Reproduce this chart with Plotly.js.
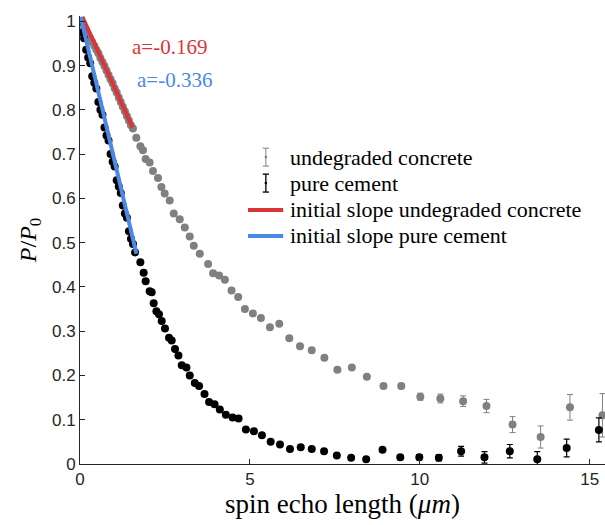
<!DOCTYPE html>
<html>
<head>
<meta charset="utf-8">
<script src="https://cdn.plot.ly/plotly-3.0.1.min.js"></script>
<style>html,body{margin:0;padding:0;background:#fff}#chart{width:605px;height:525px}</style>
</head>
<body>
<div id="chart"></div>
<script>
// ---- data ----
const concreteX = [0,0.06,0.12,0.18,0.24,0.30,0.36,0.42,0.48,0.54,0.60,0.66,0.72,0.78,0.84,0.90,0.96,1.02,1.08,1.14,1.20,1.26,1.32,1.38,1.44,1.50,
  1.558,1.658,1.776,1.853,1.932,2.050,2.147,2.295,2.395,2.493,2.640,2.758,2.935,3.083,3.230,3.348,3.525,3.770,3.917,4.094,4.263,4.460,4.655,4.853,
  5.088,5.324,5.590,5.864,6.159,6.475,6.820,7.192,7.575,8.000,8.442,8.932,9.454,10.015,10.605,11.274,11.962,12.729,13.555,14.419,15.375];
const concreteY = [1.0,0.995,0.988,0.980,0.970,0.962,0.953,0.945,0.936,0.928,0.917,0.908,0.899,0.889,0.879,0.869,0.860,0.849,0.839,0.828,0.818,0.807,0.797,0.786,0.776,0.765,
  0.758,0.737,0.718,0.709,0.689,0.681,0.662,0.646,0.626,0.611,0.595,0.566,0.553,0.534,0.514,0.493,0.475,0.452,0.431,0.426,0.416,0.392,0.377,0.350,
  0.340,0.330,0.309,0.317,0.284,0.266,0.257,0.240,0.213,0.218,0.197,0.176,0.176,0.152,0.148,0.142,0.131,0.089,0.061,0.128,0.110];
const concreteErr = [0,0,0,0,0,0,0,0,0,0,0,0,0,0,0,0,0,0,0,0,0,0,0,0,0,0,
  0,0,0,0,0,0,0,0,0,0,0,0,0,0,0,0,0,0,0,0,0,0,0,0,
  0,0,0,0,0,0,0,0,0,0,0.004,0.005,0.006,0.008,0.010,0.012,0.015,0.018,0.025,0.029,0.049];

const cementX = [0,0.06,0.12,0.18,0.24,0.30,0.36,0.42,0.48,0.54,0.60,0.66,0.72,0.78,0.84,0.90,0.96,1.02,1.08,1.14,1.20,1.26,1.32,1.38,1.44,1.50,1.56,1.62,
  1.776,1.873,1.932,2.050,2.109,2.168,2.248,2.324,2.404,2.501,2.619,2.699,2.796,2.897,2.994,3.133,3.230,3.378,3.504,3.664,3.799,3.959,4.115,4.292,4.490,4.667,
  4.882,5.118,5.354,5.611,5.885,6.180,6.496,6.820,7.183,7.558,7.979,8.422,8.903,9.425,9.985,10.56,11.215,11.903,12.649,13.457,14.322,15.27];
const cementY = [1.0,0.975,0.962,0.936,0.918,0.905,0.876,0.861,0.848,0.818,0.800,0.789,0.760,0.742,0.731,0.700,0.683,0.672,0.641,0.627,0.612,0.584,0.566,0.556,0.526,0.509,0.497,0.478,
  0.456,0.432,0.413,0.390,0.388,0.363,0.345,0.338,0.323,0.306,0.285,0.279,0.260,0.245,0.223,0.218,0.200,0.183,0.176,0.158,0.140,0.135,0.123,0.111,0.105,0.103,
  0.078,0.074,0.065,0.050,0.044,0.034,0.038,0.034,0.029,0.019,0.014,0.011,0.032,0.015,0.015,0.014,0.029,0.015,0.029,0.011,0.036,0.077];
const cementErr = [0,0,0,0,0,0,0,0,0,0,0,0,0,0,0,0,0,0,0,0,0,0,0,0,0,0,0,0,
  0,0,0,0,0,0,0,0,0,0,0,0,0,0,0,0,0,0,0,0,0,0,0,0,0,0,
  0,0,0,0,0,0,0,0,0,0,0,0,0.004,0.005,0.006,0.007,0.011,0.013,0.015,0.017,0.020,0.027];

const slopeConcreteX = [0.07, 1.55];
const slopeConcreteY = [1.01, 0.76];
const slopeCementX = [0.02, 1.66];
const slopeCementY = [1.01, 0.475];

const slopeLabels = ["a=-0.169", "a=-0.336"];
const seriesNames = ["undegraded concrete", "pure cement", "initial slope undegraded concrete", "initial slope pure cement"];
const xTicks = [0, 5, 10, 15];

// ---- styles ----
const GRAY = "#808080", RED = "#d9363a", BLUE = "#4a8ae6";
const SERIF = "Liberation Serif";
const SANS = "Liberation Sans";

const traces = [
  {x: concreteX, y: concreteY, mode: "markers", type: "scatter", name: seriesNames[0],
   marker: {color: GRAY, size: 8},
   error_y: {type: "data", array: concreteErr, color: GRAY, thickness: 1, width: 3}},
  {x: cementX, y: cementY, mode: "markers", type: "scatter", name: seriesNames[1],
   marker: {color: "#000", size: 8},
   error_y: {type: "data", array: cementErr, color: "#000", thickness: 1.2, width: 3}},
  {x: slopeConcreteX, y: slopeConcreteY, mode: "lines", type: "scatter", name: seriesNames[2],
   line: {color: RED, width: 4}},
  {x: slopeCementX, y: slopeCementY, mode: "lines", type: "scatter", name: seriesNames[3],
   line: {color: BLUE, width: 4}}
];

// custom legend (icons drawn as shapes, labels as text), paper coordinates
const legRowsY = [0.685, 0.627, 0.567, 0.509];
const legIconX = 0.354, legLineX0 = 0.32, legLineX1 = 0.387, legTextX = 0.396;
const shapes = [];
[[GRAY, 1, legRowsY[0]], ["#000", 1.3, legRowsY[1]]].forEach(([c, w, yc]) => {
  const h = 0.02, cap = 0.006;
  shapes.push({type: "line", xref: "paper", yref: "paper", x0: legIconX, x1: legIconX, y0: yc - h, y1: yc + h, line: {color: c, width: w}});
  shapes.push({type: "line", xref: "paper", yref: "paper", x0: legIconX - cap, x1: legIconX + cap, y0: yc - h, y1: yc - h, line: {color: c, width: w}});
  shapes.push({type: "line", xref: "paper", yref: "paper", x0: legIconX - cap, x1: legIconX + cap, y0: yc + h, y1: yc + h, line: {color: c, width: w}});
  shapes.push({type: "circle", xref: "paper", yref: "paper", x0: legIconX - 0.0025, x1: legIconX + 0.0025, y0: yc - 0.003, y1: yc + 0.003, fillcolor: c, line: {color: c, width: 0}});
});
shapes.push({type: "line", xref: "paper", yref: "paper", x0: legLineX0, x1: legLineX1, y0: legRowsY[2], y1: legRowsY[2], line: {color: RED, width: 4}});
shapes.push({type: "line", xref: "paper", yref: "paper", x0: legLineX0, x1: legLineX1, y0: legRowsY[3], y1: legRowsY[3], line: {color: BLUE, width: 4}});

const annotations = seriesNames.map((n, i) => ({
  x: legTextX, y: legRowsY[i], xref: "paper", yref: "paper", xanchor: "left", yanchor: "middle",
  text: n, showarrow: false, font: {family: SERIF, size: 22, color: "#000"}
}));
annotations.push({x: 2.62, y: 0.942, xref: "x", yref: "y", text: slopeLabels[0], showarrow: false,
  font: {family: SERIF, size: 21, color: RED}});
annotations.push({x: 2.78, y: 0.867, xref: "x", yref: "y", text: slopeLabels[1], showarrow: false,
  font: {family: SERIF, size: 21, color: BLUE}});

const layout = {
  width: 605, height: 525,
  margin: {l: 80, r: 0, t: 16, b: 61},
  paper_bgcolor: "#fff", plot_bgcolor: "#fff",
  font: {family: SERIF, color: "#000"},
  showlegend: false,
  xaxis: {range: [0, 15.45], tickvals: xTicks, ticktext: xTicks.map(String),
    ticks: "inside", ticklen: 5, tickcolor: "#262626", showline: true, linecolor: "#262626", linewidth: 1,
    showgrid: false, zeroline: false, mirror: false,
    tickfont: {family: SANS, size: 17, color: "#262626"},
    title: {text: "spin echo length (<i>μm</i>)", font: {family: SERIF, size: 27, color: "#000"}, standoff: 5}},
  yaxis: {range: [0, 1.012], dtick: 0.1, tick0: 0,
    ticks: "inside", ticklen: 5, tickcolor: "#262626", showline: true, linecolor: "#262626", linewidth: 1,
    showgrid: false, zeroline: false, mirror: false,
    tickfont: {family: SANS, size: 17, color: "#262626"},
    title: {text: "<i>P</i>/<i>P</i><sub>0</sub>", font: {family: SERIF, size: 24, color: "#000"}, standoff: 8}},
  shapes: shapes,
  annotations: annotations
};

Plotly.newPlot("chart", traces, layout, {displayModeBar: false, staticPlot: true});
</script>
</body>
</html>
